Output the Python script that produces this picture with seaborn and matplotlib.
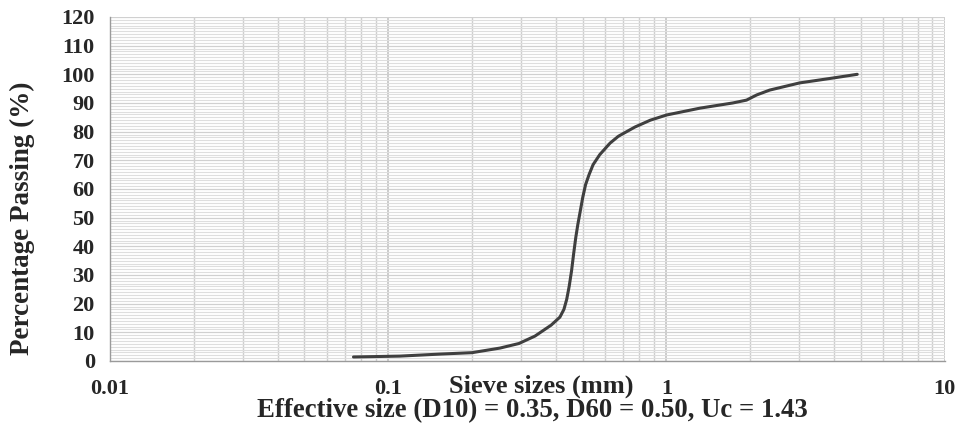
import numpy as np
import pandas as pd
import matplotlib
matplotlib.use("Agg")
import matplotlib.pyplot as plt
import seaborn as sns
from matplotlib.ticker import LogLocator, MultipleLocator, FixedLocator, NullFormatter

# Data
sieve_size_mm = [0.075, 0.110, 0.153, 0.20, 0.252, 0.295, 0.337, 0.385, 0.414, 0.428,
                 0.438, 0.447, 0.456, 0.464, 0.472, 0.48, 0.489, 0.500, 0.512, 0.527,
                 0.545, 0.576, 0.627, 0.672, 0.77, 0.875, 1.0, 1.32, 1.73, 1.94,
                 2.11, 2.35, 3.01, 3.96, 4.85]
percent_passing = [1.4, 1.7, 2.4, 2.9, 4.5, 6.1, 8.7, 12.5, 15.3, 18.0,
                   21.5, 26, 31.5, 37.5, 43, 47.5, 51.8, 57, 61.5, 65,
                   68.5, 72, 76, 78.4, 81.6, 84, 85.8, 88.2, 90, 91,
                   92.8, 94.5, 97, 98.7, 100]
y_ticks = list(range(0, 121, 10))
x_ticks = [0.01, 0.1, 1, 10]
x_tick_labels = ["0.01", "0.1", "1", "10"]

df = pd.DataFrame({"size": sieve_size_mm, "passing": percent_passing})

sns.set_theme(style="white")
plt.rcParams["font.family"] = ["Liberation Serif", "DejaVu Serif"]
plt.rcParams["font.weight"] = "bold"

fig = plt.figure(figsize=(9.61, 4.30), dpi=100)
ax = fig.add_axes([0.1145, 0.1605, 0.8685, 0.80])

sns.lineplot(data=df, x="size", y="passing", ax=ax, sort=False,
             color="#3f3f3f", linewidth=2.2, zorder=5)
for l in ax.get_lines():
    l.set_solid_joinstyle("round")
    l.set_solid_capstyle("round")

ax.set_xscale("log")
ax.set_xlim(0.01, 10)
ax.set_ylim(0, 120)

ax.xaxis.set_major_locator(FixedLocator(x_ticks))
ax.set_xticklabels(x_tick_labels)
ax.xaxis.set_minor_locator(LogLocator(base=10, subs=np.arange(2, 10)))
ax.xaxis.set_minor_formatter(NullFormatter())
ax.set_yticks(y_ticks)
ax.yaxis.set_minor_locator(MultipleLocator(1))

ax.grid(which="minor", axis="y", color="#dedede", linewidth=0.8)
ax.grid(which="major", axis="y", color="#d0d0d0", linewidth=0.9)
ax.grid(which="minor", axis="x", color="#cfcfcf", linewidth=1.0)
ax.grid(which="major", axis="x", color="#bfbfbf", linewidth=1.1)
ax.set_axisbelow(True)

for s in ["top", "right"]:
    ax.spines[s].set_visible(False)
for s in ["left", "bottom"]:
    ax.spines[s].set_color("#9a9a9a")
    ax.spines[s].set_linewidth(1.0)

ax.tick_params(axis="both", which="major", direction="out", length=5, width=1,
               color="#9a9a9a", labelsize=16)
ax.tick_params(axis="y", which="major", pad=6)
ax.tick_params(axis="x", which="major", pad=8)
ax.tick_params(axis="both", which="minor", length=0)
for lab in ax.get_xticklabels() + ax.get_yticklabels():
    lab.set_fontweight("bold")

ax.set_xlabel("")
ax.set_ylabel("")

fig.text(0.023, 0.493, "Percentage Passing (%)", rotation=90, ha="center", va="center",
         fontsize=19.5, fontweight="bold")
fig.text(0.563, 0.102, "Sieve sizes (mm)", ha="center", va="center",
         fontsize=19, fontweight="bold")
fig.text(0.554, 0.044, "Effective size (D10) = 0.35, D60 = 0.50, Uc = 1.43",
         ha="center", va="center", fontsize=19.3, fontweight="bold")

fig.savefig("out.png", dpi=100, facecolor="white")
